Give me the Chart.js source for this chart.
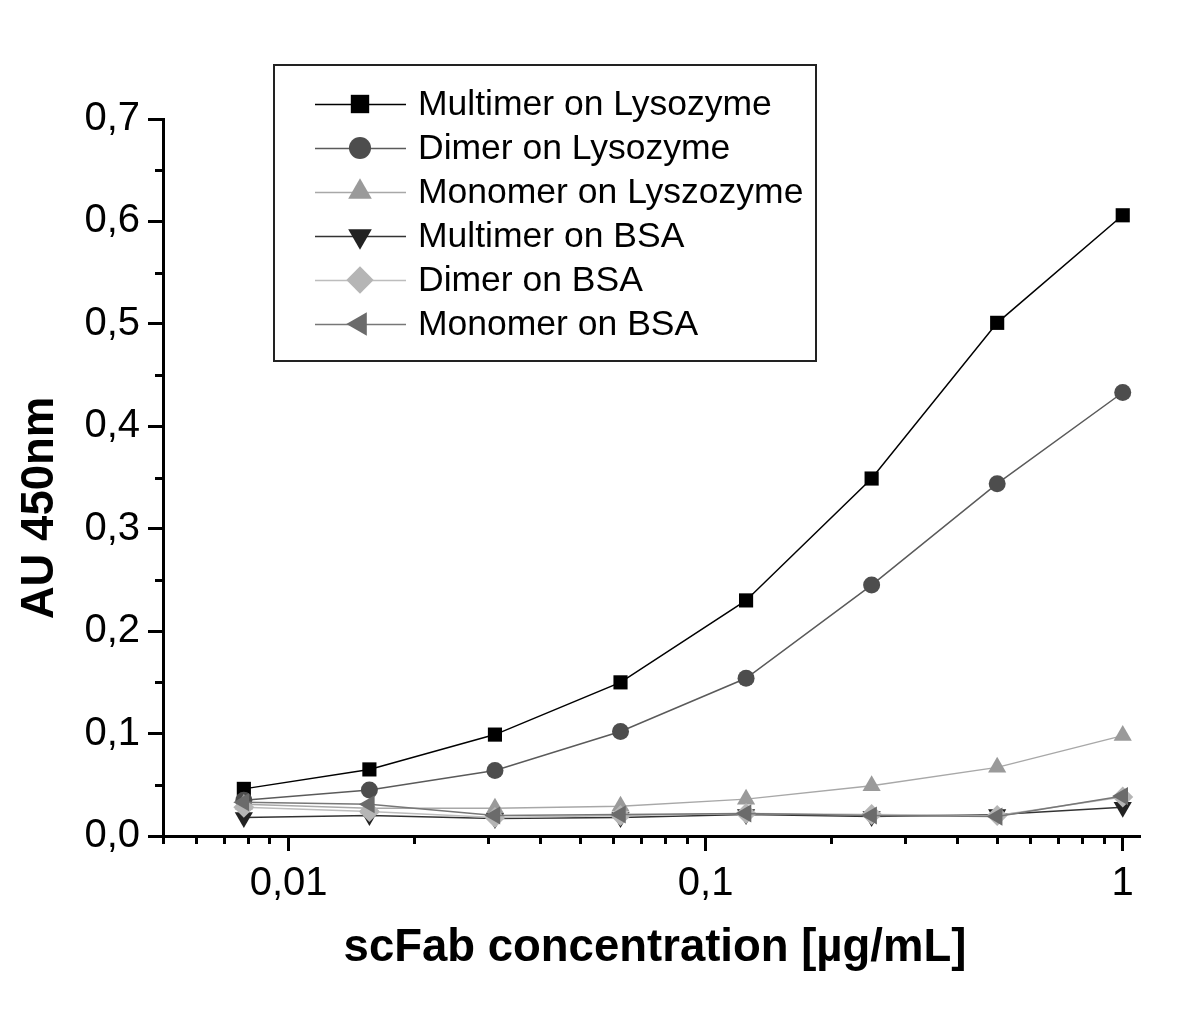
<!DOCTYPE html>
<html>
<head>
<meta charset="utf-8">
<script src="https://cdn.jsdelivr.net/npm/chart.js@4.4.1/dist/chart.umd.min.js"></script>
<style>
html,body{margin:0;padding:0;background:#fff;}
#wrap{width:1200px;height:1011px;}
</style>
</head>
<body>
<div id="wrap"><canvas id="c" width="1200" height="1011"></canvas></div>
<script>
// ---- data ----
const concentrations = [0.0078125, 0.015625, 0.03125, 0.0625, 0.125, 0.25, 0.5, 1];
const multimerLys = [0.046, 0.065, 0.099, 0.150, 0.230, 0.349, 0.501, 0.606];
const dimerLys    = [0.035, 0.045, 0.064, 0.102, 0.154, 0.245, 0.344, 0.433];
const monomerLys  = [0.031, 0.027, 0.027, 0.029, 0.036, 0.049, 0.067, 0.098];
const multimerBSA = [0.018, 0.020, 0.017, 0.018, 0.021, 0.019, 0.021, 0.028];
const dimerBSA    = [0.028, 0.024, 0.018, 0.020, 0.022, 0.021, 0.020, 0.038];
const monomerBSA  = [0.033, 0.031, 0.020, 0.021, 0.022, 0.020, 0.019, 0.039];
const seriesNames = ['Multimer on Lysozyme','Dimer on Lysozyme','Monomer on Lyszozyme','Multimer on BSA','Dimer on BSA','Monomer on BSA'];
const xTickValues = [0.01, 0.1, 1];
const xTickLabels = ['0,01', '0,1', '1'];
const xMinorTicks = [0.005,0.006,0.007,0.008,0.009,0.02,0.03,0.04,0.05,0.06,0.07,0.08,0.09,0.2,0.3,0.4,0.5,0.6,0.7,0.8,0.9];
const yTickValues = [0, 0.1, 0.2, 0.3, 0.4, 0.5, 0.6, 0.7];
const yTickLabels = ['0,0','0,1','0,2','0,3','0,4','0,5','0,6','0,7'];
const yMinorTicks = [0.05, 0.15, 0.25, 0.35, 0.45, 0.55, 0.65];
const xTitle = 'scFab concentration [µg/mL]';
const yTitle = 'AU 450nm';

// ---- styles ----
const styles = [
  {point:'rect', radius:10, rot:0, fill:'#000000', line:'#000000'},
  {point:'circle', radius:8.5, rot:0, fill:'#4d4d4d', line:'#5a5a5a'},
  {point:'triangle', radius:10.5, rot:0, fill:'#9a9a9a', line:'#a8a8a8'},
  {point:'triangle', radius:10.5, rot:180, fill:'#222222', line:'#333333'},
  {point:'rectRot', radius:10.5, rot:0, fill:'#b5b5b5', line:'#bdbdbd'},
  {point:'triangle', radius:10.5, rot:-90, fill:'#6b6b6b', line:'#777777'}
];
const allSeries = [multimerLys, dimerLys, monomerLys, multimerBSA, dimerBSA, monomerBSA];

const datasets = allSeries.map((vals, i) => ({
  label: seriesNames[i],
  data: concentrations.map((x, j) => ({x: x, y: vals[j]})),
  borderColor: styles[i].line,
  borderWidth: 1.5,
  backgroundColor: styles[i].fill,
  pointBackgroundColor: styles[i].fill,
  pointBorderColor: styles[i].fill,
  pointBorderWidth: 0,
  pointStyle: styles[i].point,
  pointRadius: styles[i].radius,
  pointRotation: styles[i].rot,
  tension: 0,
  order: allSeries.length - i
}));

const FONT = "'Liberation Sans', Arial, sans-serif";

const extrasPlugin = {
  id: 'extras',
  afterDraw(chart) {
    const ctx = chart.ctx;
    const xs = chart.scales.x, ys = chart.scales.y;
    ctx.save();
    // minor ticks
    ctx.strokeStyle = '#000';
    ctx.lineWidth = 3;
    ctx.beginPath();
    xMinorTicks.forEach(v => {
      const px = Math.round(xs.getPixelForValue(v)) + 0.5;
      ctx.moveTo(px, ys.bottom);
      ctx.lineTo(px, ys.bottom + 8);
    });
    yMinorTicks.forEach(v => {
      const py = Math.round(ys.getPixelForValue(v)) + 0.5;
      ctx.moveTo(xs.left, py);
      ctx.lineTo(xs.left - 8, py);
    });
    ctx.stroke();

    // axis titles
    ctx.fillStyle = '#000';
    ctx.font = "bold 45.5px " + FONT;
    ctx.textAlign = 'center';
    ctx.textBaseline = 'middle';
    ctx.fillText(xTitle, 655, 948);
    ctx.save();
    ctx.translate(40, 508);
    ctx.rotate(-Math.PI / 2);
    ctx.fillText(yTitle, 0, 0);
    ctx.restore();

    // legend
    const bx = 274, by = 65, bw = 542, bh = 296;
    ctx.fillStyle = '#fff';
    ctx.fillRect(bx, by, bw, bh);
    ctx.strokeStyle = '#222';
    ctx.lineWidth = 2;
    ctx.strokeRect(bx, by, bw, bh);
    const rowY0 = 104, rowStep = 44;
    ctx.font = "35.5px " + FONT;
    ctx.textAlign = 'left';
    ctx.textBaseline = 'middle';
    seriesNames.forEach((name, i) => {
      const y = rowY0 + i * rowStep;
      ctx.strokeStyle = styles[i].line;
      ctx.lineWidth = 1.5;
      ctx.beginPath();
      ctx.moveTo(315, y + 0.5);
      ctx.lineTo(406, y + 0.5);
      ctx.stroke();
      ctx.fillStyle = styles[i].fill;
      ctx.strokeStyle = styles[i].fill;
      ctx.lineWidth = 0;
      Chart.helpers.drawPoint(ctx, {pointStyle: styles[i].point, radius: styles[i].radius * 1.3, rotation: styles[i].rot, borderWidth: 0}, 360, y);
      ctx.fillStyle = '#000';
      ctx.fillText(name, 418, y + 1);
    });
    ctx.restore();
  }
};

new Chart(document.getElementById('c'), {
  type: 'line',
  data: {datasets},
  options: {
    responsive: false,
    devicePixelRatio: 1,
    animation: false,
    events: [],
    layout: {padding: {top: 119, left: 0, right: 60, bottom: 0}},
    plugins: {legend: {display: false}, tooltip: {enabled: false}},
    scales: {
      x: {
        type: 'logarithmic',
        min: 0.005,
        max: 1.1,
        afterBuildTicks(scale) {
          scale.ticks = xTickValues.map(v => ({value: v, major: true}));
        },
        afterFit(scale) { scale.height = 175; },
        ticks: {
          autoSkip: false,
          maxRotation: 0,
          padding: 9,
          color: '#000',
          font: {family: FONT, size: 40},
          callback(value) {
            const k = xTickValues.indexOf(value);
            return k >= 0 ? xTickLabels[k] : '';
          }
        },
        grid: {drawOnChartArea: false, drawTicks: true, tickLength: 15, tickWidth: 3, tickColor: '#000'},
        border: {display: true, color: '#000', width: 3}
      },
      y: {
        type: 'linear',
        min: 0,
        max: 0.7,
        afterBuildTicks(scale) {
          scale.ticks = yTickValues.map(v => ({value: v}));
        },
        afterFit(scale) { scale.width = 163; },
        ticks: {
          padding: 8,
          color: '#000',
          font: {family: FONT, size: 40},
          callback(value) {
            const k = yTickValues.findIndex(v => Math.abs(v - value) < 1e-9);
            return k >= 0 ? yTickLabels[k] : '';
          }
        },
        grid: {drawOnChartArea: false, drawTicks: true, tickLength: 15, tickWidth: 3, tickColor: '#000'},
        border: {display: true, color: '#000', width: 3}
      }
    }
  },
  plugins: [extrasPlugin]
});
</script>
</body>
</html>
